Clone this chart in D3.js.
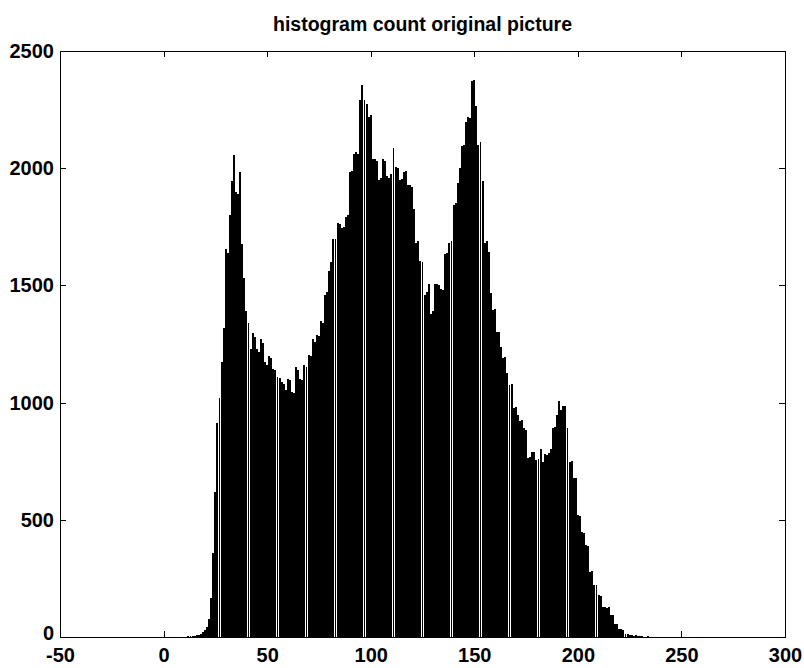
<!DOCTYPE html>
<html>
<head>
<meta charset="utf-8">
<script src="https://cdn.jsdelivr.net/npm/d3@7"></script>
<style>
  body { margin: 0; background: #fff; }
  text { font-family: "Liberation Sans", Arial, Helvetica, sans-serif; font-weight: bold; }
</style>
</head>
<body>
<div class="hist-plot"></div>
<script>
// grey levels 0..255
const levels = d3.range(256);

// pixel count per grey level
const counts = [
  0,0,0,0,0,0,0,0,0,0,
  2,0,4,6,3,5,8,10,14,20,
  28,42,75,165,360,620,915,1020,1175,1320,
  1655,1640,1800,1945,2058,1900,1890,1985,1675,1530,
  1390,1340,1230,1295,1280,1230,1215,1270,1255,1175,
  1160,1200,1190,1145,1140,1110,1105,1090,1080,1055,
  1100,1095,1047,1040,1153,1140,1100,1095,1162,1150,
  1205,1200,1270,1260,1290,1285,1346,1340,1460,1470,
  1560,1600,1697,1700,1765,1760,1745,1750,1792,1800,
  1983,1990,2061,2070,2060,2291,2355,2290,2275,2220,
  2225,2038,2040,2030,1951,1960,2038,2030,1967,1960,
  1975,2085,2006,2000,1951,1955,1983,1990,1927,1930,
  1920,1824,1682,1690,1603,1600,1461,1470,1508,1380,
  1390,1508,1505,1500,1484,1480,1634,1640,1682,1690,
  1842,1850,1936,2000,2094,2100,2197,2220,2215,2370,
  2375,2267,2101,2110,1944,1682,1690,1642,1468,1397,
  1400,1303,1300,1239,1192,1195,1128,1073,1080,979,
  980,946,923,925,890,885,765,770,788,790,
  756,760,803,748,780,775,785,803,890,895,
  946,1008,970,987,985,890,748,750,677,680,
  521,515,449,445,393,390,278,280,222,220,
  179,175,128,130,125,128,94,92,56,55,
  34,33,30,13,12,8,7,6,8,5,
  6,4,2,2,3,1,1,0,0,0,
  0,0,0,0,0,0,0,0,0,0,0,0,0,0,0,0
];

const xTicks = [-50, 0, 50, 100, 150, 200, 250, 300];
const yTicks = [0, 500, 1000, 1500, 2000, 2500];
const title = 'histogram count original picture';

//Create svg
const width = 804;
const height = 668;
const margin = {top: 51, right: 19, bottom: 31, left: 60};

const svg = d3.select('.hist-plot')
    .append('svg')
    .attr('width', width)
    .attr('height', height);

const x = d3.scaleLinear()
    .domain([-50, 300])
    .range([margin.left, width - margin.right]);

const y = d3.scaleLinear()
    .domain([0, 2500])
    .range([height - margin.bottom, margin.top]);

//Bars, one per grey level
const barW = 0.9;
svg.append('g')
    .attr('shape-rendering', 'crispEdges')
  .selectAll('rect')
    .data(levels)
    .enter()
    .append('rect')
    .attr('x', d => x(d - barW / 2))
    .attr('width', x(barW) - x(0))
    .attr('y', d => y(counts[d]))
    .attr('height', d => y(0) - y(counts[d]))
    .attr('fill', '#000');

//Axes, ticks pointing inward on all four sides
const tick = 6;
const plain = d => String(d); // "-50" with a hyphen, no thousands comma
const axisB = svg.append('g')
    .attr('transform', `translate(0,${y(0)})`)
    .call(d3.axisBottom(x).tickValues(xTicks).tickSize(-tick).tickPadding(11).tickFormat(plain));
const axisT = svg.append('g')
    .attr('transform', `translate(0,${y(2500)})`)
    .call(d3.axisTop(x).tickValues(xTicks).tickSize(-tick).tickFormat(''));
const axisL = svg.append('g')
    .attr('transform', `translate(${x(-50)},0)`)
    .call(d3.axisLeft(y).tickValues(yTicks).tickSize(-tick).tickPadding(6).tickFormat(plain));
const axisR = svg.append('g')
    .attr('transform', `translate(${x(300)},0)`)
    .call(d3.axisRight(y).tickValues(yTicks).tickSize(-tick).tickFormat(''));

[axisB, axisT, axisL, axisR].forEach(g => {
  g.attr('font-family', null).attr('font-size', null);
  g.selectAll('path, line').attr('stroke', '#000').attr('shape-rendering', 'crispEdges');
  g.selectAll('text').attr('font-size', '20px').attr('fill', '#000');
});
// the 0 on the y axis sits a little above the baseline in the original
axisL.selectAll('text').filter(d => d === 0).attr('dy', '0.1em');

//Title
svg.append('text')
    .attr('x', (x(-50) + x(300)) / 2)
    .attr('y', 31)
    .attr('text-anchor', 'middle')
    .attr('font-size', '19.5px')
    .text(title);
</script>
</body>
</html>
